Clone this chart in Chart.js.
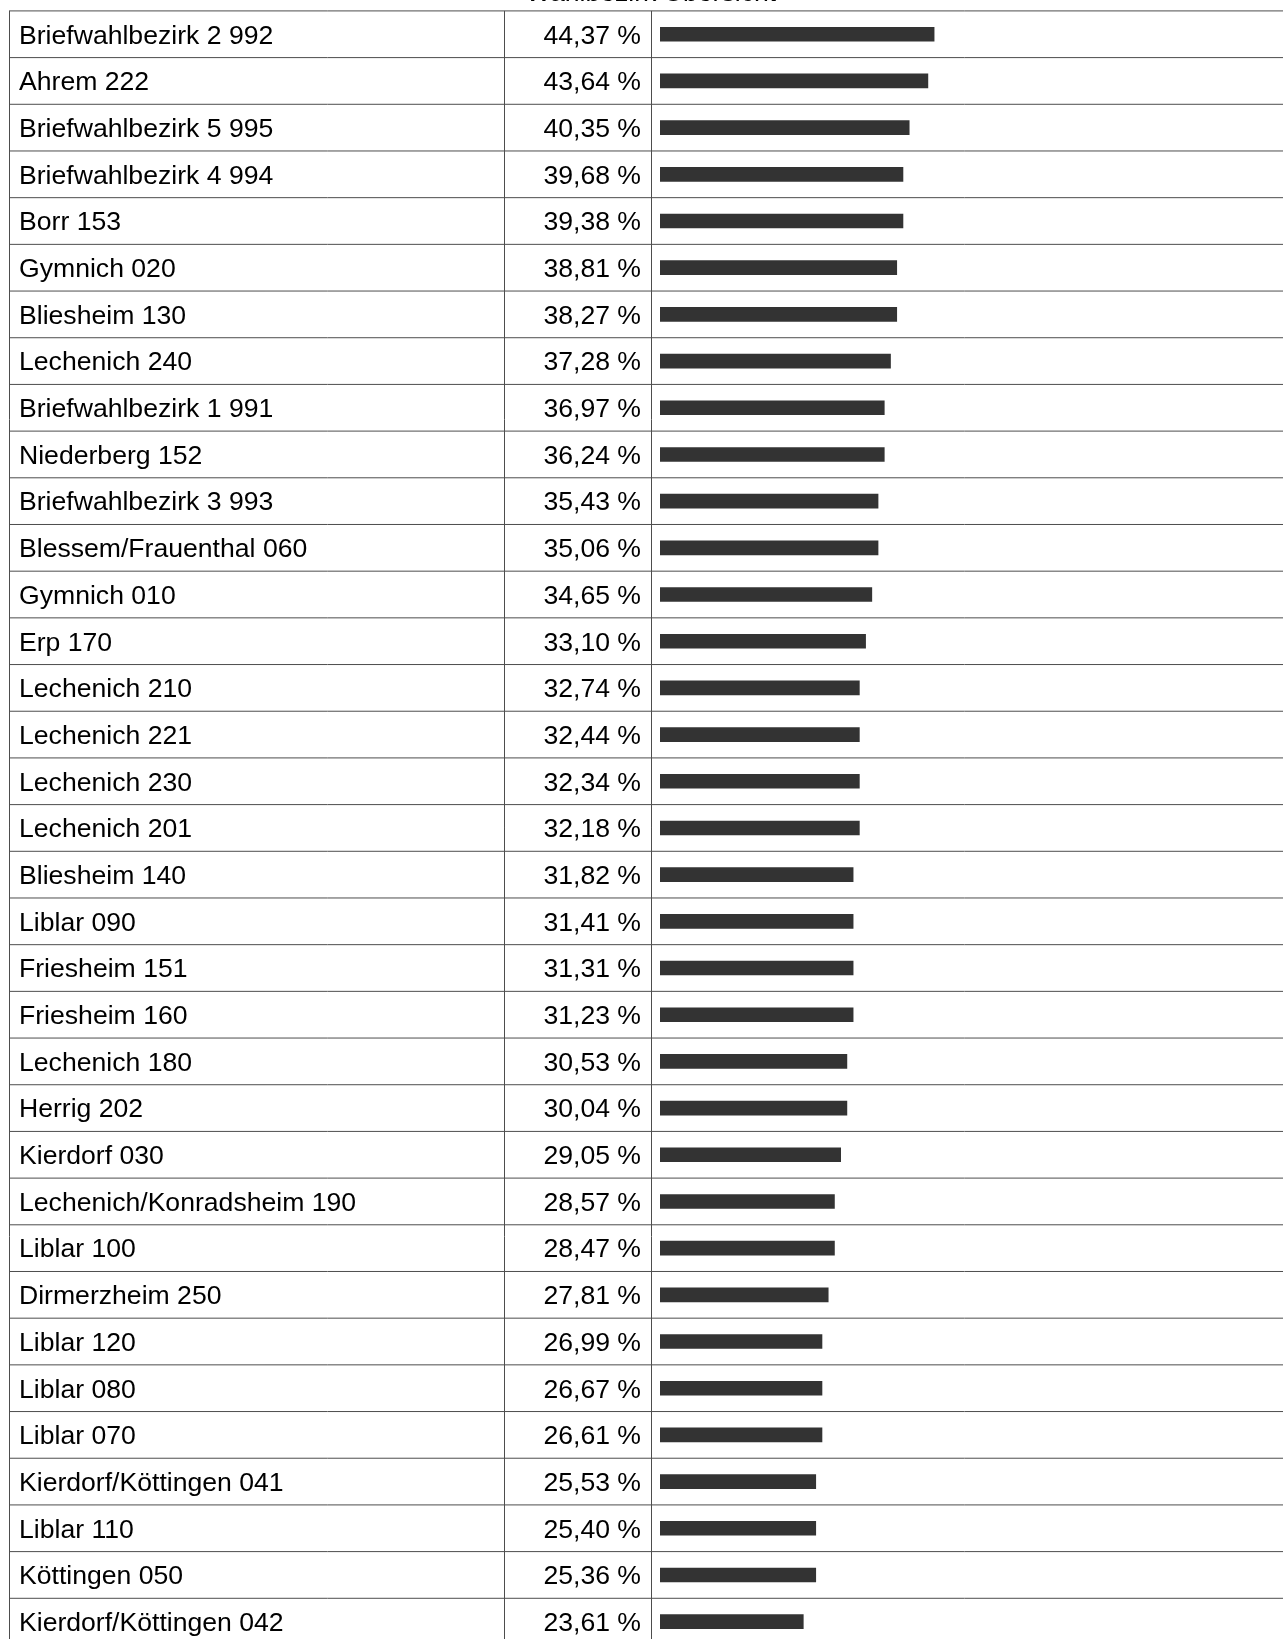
<!DOCTYPE html>
<html lang="de">
<head>
<meta charset="utf-8">
<title>Wahlbezirk Übersicht</title>
<script src="https://cdn.jsdelivr.net/npm/chart.js@4.4.1/dist/chart.umd.min.js"></script>
<style>
    html, body { margin: 0; padding: 0; background: #fff; overflow: hidden; }
    #wrap { position: relative; width: 1283px; height: 1639px; overflow: hidden; }
    #chart { position: absolute; left: 0; top: -22px; }
</style>
</head>
<body>
<div id="wrap"><canvas id="chart" width="1283" height="1667"></canvas></div>
<script>
const names = [
    'Briefwahlbezirk 2 992', 'Ahrem 222', 'Briefwahlbezirk 5 995', 'Briefwahlbezirk 4 994',
    'Borr 153', 'Gymnich 020', 'Bliesheim 130', 'Lechenich 240', 'Briefwahlbezirk 1 991',
    'Niederberg 152', 'Briefwahlbezirk 3 993', 'Blessem/Frauenthal 060', 'Gymnich 010',
    'Erp 170', 'Lechenich 210', 'Lechenich 221', 'Lechenich 230', 'Lechenich 201',
    'Bliesheim 140', 'Liblar 090', 'Friesheim 151', 'Friesheim 160', 'Lechenich 180',
    'Herrig 202', 'Kierdorf 030', 'Lechenich/Konradsheim 190', 'Liblar 100',
    'Dirmerzheim 250', 'Liblar 120', 'Liblar 080', 'Liblar 070', 'Kierdorf/Köttingen 041',
    'Liblar 110', 'Köttingen 050', 'Kierdorf/Köttingen 042'
];

const values = [
    44.37, 43.64, 40.35, 39.68, 39.38, 38.81, 38.27, 37.28, 36.97, 36.24,
    35.43, 35.06, 34.65, 33.10, 32.74, 32.44, 32.34, 32.18, 31.82, 31.41,
    31.31, 31.23, 30.53, 30.04, 29.05, 28.57, 28.47, 27.81, 26.99, 26.67,
    26.61, 25.53, 25.40, 25.36, 23.61
];

// the bars in the original are drawn in whole percent steps
const barValues = values.map(v => Math.floor(v));
const pctLabels = values.map(v => v.toFixed(2).replace('.', ',') + ' %');

const font = { family: '"Liberation Sans", Arial, Helvetica, sans-serif', size: 26.6, weight: 'normal' };

const tableLines = {
    id: 'tableLines',
    afterDatasetsDraw(chart) {
        const { ctx, chartArea, scales } = chart;
        const yNames = scales.y;
        const yPct = scales.y2;
        const step = yNames.getPixelForValue(1) - yNames.getPixelForValue(0);
        const top = yNames.getPixelForValue(0) - step / 2;
        const bottom = yNames.getPixelForValue(names.length) - step / 2;
        ctx.save();
        ctx.strokeStyle = '#4d4d4d';
        ctx.lineWidth = 1;
        ctx.beginPath();
        for (let i = 0; i <= names.length; i++) {
            const y = yNames.getPixelForValue(i) - step / 2;
            ctx.moveTo(yNames.left - 10, y);
            ctx.lineTo(chart.width, y);
        }
        [yNames.left - 9.5, yPct.left + 0.5, chartArea.left - 8.5].forEach(x => {
            ctx.moveTo(x, top);
            ctx.lineTo(x, bottom);
        });
        ctx.stroke();
        ctx.restore();
    }
};

// fixed column widths, and no extra room above/below the rows
const fitColumn = width => scale => {
    scale.width = width;
    scale.paddingTop = 0;
    scale.paddingBottom = 0;
};

new Chart(document.getElementById('chart'), {
    type: 'bar',
    data: {
        labels: names,
        datasets: [{
            data: barValues,
            backgroundColor: '#333333',
            barThickness: 14,
            yAxisID: 'y'
        }]
    },
    plugins: [tableLines],
    options: {
        indexAxis: 'y',
        responsive: false,
        animation: false,
        layout: { padding: { left: 19, right: 0, top: 0, bottom: 0 } },
        plugins: {
            legend: { display: false },
            tooltip: { enabled: false },
            title: {
                display: true,
                text: 'Wahlbezirk Übersicht',
                color: '#000',
                font: font,
                padding: { top: 0, bottom: 1 }
            }
        },
        scales: {
            x: { display: false, min: 0, max: 100 },
            y: {
                position: 'left',
                weight: 2,
                offset: true,
                grid: { display: false, drawTicks: false },
                border: { display: false },
                ticks: { crossAlign: 'far', color: '#000', font: font, padding: 0, labelOffset: 2, autoSkip: false },
                afterFit: fitColumn(485)
            },
            y2: {
                type: 'category',
                labels: pctLabels,
                position: 'left',
                weight: 1,
                offset: true,
                grid: { display: false, drawTicks: false },
                border: { display: false },
                ticks: { color: '#000', font: font, padding: 19, labelOffset: 2, autoSkip: false },
                afterFit: fitColumn(156)
            }
        }
    }
});
</script>
</body>
</html>
